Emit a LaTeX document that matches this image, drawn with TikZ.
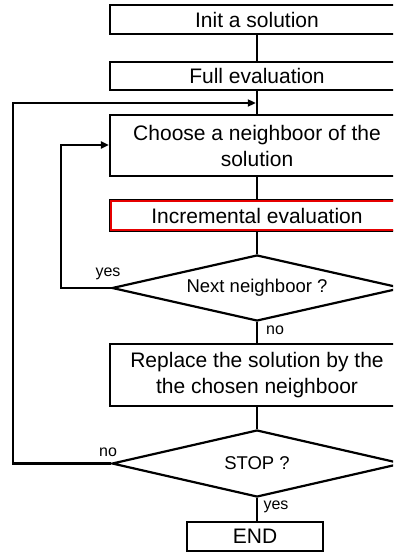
\documentclass[tikz,border=0pt]{standalone}
\usepackage{fontspec}
\setmainfont{Liberation Sans}
\usetikzlibrary{shapes.geometric,arrows.meta}
\definecolor{evalred}{RGB}{230,0,0}
\begin{document}
\begin{tikzpicture}[x=1pt,y=-1pt,
  box/.style={draw, line width=2.2pt, minimum width=294pt, inner sep=0pt,
    font=\fontsize{21}{26}\selectfont, align=center},
  decision/.style={draw, diamond, line width=2.2pt, aspect=4.4,
    minimum width=290pt, minimum height=66pt, inner sep=0pt,
    font=\fontsize{18.5}{22}\selectfont},
  lbl/.style={font=\fontsize{16}{18}\selectfont, inner sep=0pt},
  link/.style={line width=2.2pt},
  arr/.style={link, -{Triangle[length=8pt,width=7pt]}}]
\useasboundingbox (0,0) rectangle (393,553);
\clip (0,0) rectangle (393,553);
\fill[white] (0,0) rectangle (393,553);

% process boxes and decisions along the main axis
\node[box, minimum height=29pt] (init) at (257,19.5) {Init a solution};
\node[box, minimum height=28pt] (full) at (257,76) {Full evaluation};
\node[box, minimum height=61pt] (choose) at (257,145.5) {Choose a neighboor of the\\solution};
\node[box, minimum height=31pt] (inc) at (257,215.5) {Incremental evaluation};
% red inner frame of the incremental evaluation step
\coordinate (incnw) at ([xshift=2pt,yshift=-2pt]inc.north west);
\coordinate (incse) at ([xshift=-2pt,yshift=2pt]inc.south east);
\draw[evalred, line width=1.8pt] (incnw) rectangle (incse);
\node[decision] (next) at (257,288) {Next neighboor ?};
\node[box, minimum height=62pt] (repl) at (257,375) {Replace the solution by the\\the chosen neighboor};
\node[decision, minimum height=67pt] (stop) at (257,463.5) {STOP ?};
\node[box, minimum width=136pt, minimum height=29pt] (end) at (255,536.5) {END};

% main flow
\coordinate (merge) at (257,103);
\draw[link] (init) -- (full);
\draw[link] (full) -- (choose);
\draw[link] (choose) -- (inc);
\draw[link] (inc) -- (next);
\draw[link] (next) -- (repl);
\draw[link] (repl) -- (stop);
\draw[link] (stop.south) -- (stop.south |- end.north);

% loop back for the next neighbour
\coordinate (l1) at (61,145);
\draw[arr] (next.west) -| (l1) -- (l1 -| choose.west);

% loop back while not stopping
\coordinate (l2) at (13,103);
\draw[arr] (stop.west) -| (l2) -- ([xshift=-1.2pt]merge);

% branch labels
\node[lbl] (yes1) at (108,274) {yes};
\node[lbl] (no1) at (275,330) {no};
\node[lbl] (no2) at (108,452) {no};
\node[lbl] (yes2) at (276,507) {yes};
\end{tikzpicture}
\end{document}
